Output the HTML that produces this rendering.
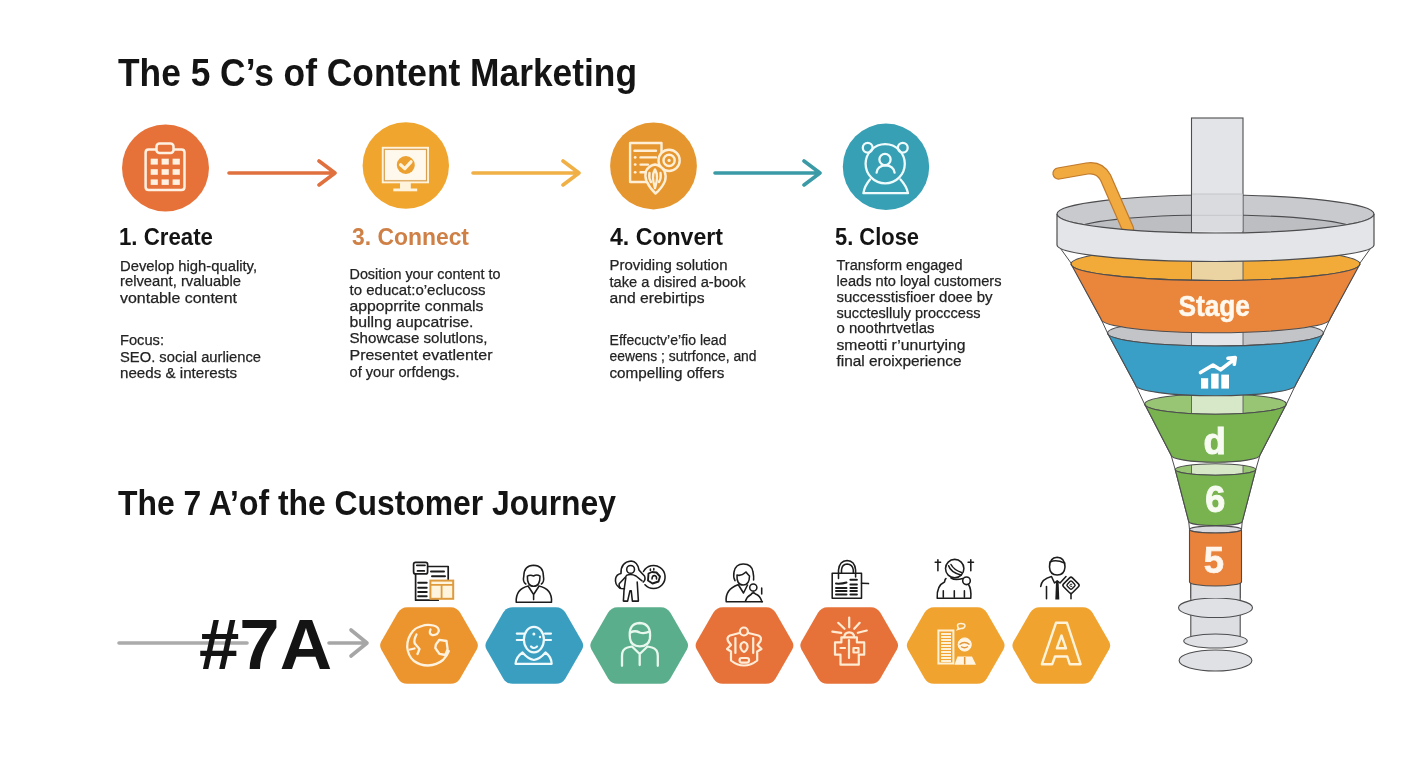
<!DOCTYPE html>
<html><head><meta charset="utf-8">
<style>
html,body{margin:0;padding:0;background:#fff;}
body{width:1408px;height:768px;overflow:hidden;position:relative;}
svg{position:absolute;left:0;top:0;will-change:transform;}
text{font-family:"Liberation Sans",sans-serif;}
.t{font-weight:bold;fill:#141414;}
.b{font-size:15.5px;fill:#232323;stroke:#232323;stroke-width:0.25px;}
.ic{fill:none;stroke:#fff6e8;stroke-width:2.6;stroke-linecap:round;stroke-linejoin:round;}
.bk{fill:none;stroke:#1e1e1e;stroke-width:1.8;stroke-linecap:round;stroke-linejoin:round;}
.ln{stroke:#4a4a4a;stroke-width:1.2;}
</style></head>
<body>
<svg width="1408" height="768" viewBox="0 0 1408 768">
<rect width="1408" height="768" fill="#ffffff"/>

<!-- Title 1 -->
<text class="t" x="118" y="86" font-size="38" textLength="519" lengthAdjust="spacingAndGlyphs">The 5 C’s of Content Marketing</text>

<!-- circles -->
<circle cx="165.5" cy="168" r="43.5" fill="#E6723A"/>
<circle cx="405.8" cy="165.5" r="43.2" fill="#F0A52E"/>
<circle cx="653.5" cy="166" r="43.4" fill="#E6962F"/>
<circle cx="886" cy="166.8" r="43.2" fill="#37A0B4"/>

<!-- arrows -->
<g fill="none" stroke-width="3.6" stroke-linecap="round" stroke-linejoin="round">
<path d="M229 173H335M319 161L335 173L319 185" stroke="#E0703E"/>
<path d="M473 173H579M563 161L579 173L563 185" stroke="#F0B045"/>
<path d="M715 173H820M804 161L820 173L804 185" stroke="#3A9AA6"/>
</g>

<!-- headings -->
<text class="t" x="119" y="245" font-size="24.5" textLength="94" lengthAdjust="spacingAndGlyphs">1. Create</text>
<text class="t" x="352" y="245" font-size="24.5" fill="#D98A4A" style="fill:#CF8046" textLength="117" lengthAdjust="spacingAndGlyphs">3. Connect</text>
<text class="t" x="610" y="245" font-size="24.5" textLength="113" lengthAdjust="spacingAndGlyphs">4. Convert</text>
<text class="t" x="835" y="245" font-size="24.5" textLength="84" lengthAdjust="spacingAndGlyphs">5. Close</text>

<!-- body col1 -->
<g class="b">
<text x="120" y="270.5" textLength="137" lengthAdjust="spacingAndGlyphs">Develop high-quality,</text>
<text x="120" y="286" textLength="121" lengthAdjust="spacingAndGlyphs">relveant, rvaluable</text>
<text x="120" y="302.5" textLength="117" lengthAdjust="spacingAndGlyphs">vontable content</text>
<text x="120" y="345" textLength="44" lengthAdjust="spacingAndGlyphs">Focus:</text>
<text x="120" y="361.5" textLength="141" lengthAdjust="spacingAndGlyphs">SEO. social aurlience</text>
<text x="120" y="377.5" textLength="117" lengthAdjust="spacingAndGlyphs">needs &amp; interests</text>
</g>
<!-- body col2 -->
<g class="b">
<text x="349.5" y="278.5" textLength="151" lengthAdjust="spacingAndGlyphs">Dosition your content to</text>
<text x="349.5" y="294.5" textLength="136" lengthAdjust="spacingAndGlyphs">to educat:o’eclucoss</text>
<text x="349.5" y="311" textLength="134" lengthAdjust="spacingAndGlyphs">appoprrite conmals</text>
<text x="349.5" y="327" textLength="124" lengthAdjust="spacingAndGlyphs">bullng aupcatrise.</text>
<text x="349.5" y="343" textLength="138" lengthAdjust="spacingAndGlyphs">Showcase solutlons,</text>
<text x="349.5" y="360" textLength="143" lengthAdjust="spacingAndGlyphs">Presentet evatlenter</text>
<text x="349.5" y="376.5" textLength="110" lengthAdjust="spacingAndGlyphs">of your orfdengs.</text>
</g>
<!-- body col3 -->
<g class="b">
<text x="609.5" y="270" textLength="118" lengthAdjust="spacingAndGlyphs">Providing solution</text>
<text x="609.5" y="286.5" textLength="136" lengthAdjust="spacingAndGlyphs">take a disired a-book</text>
<text x="609.5" y="302.5" textLength="95" lengthAdjust="spacingAndGlyphs">and erebirtips</text>
<text x="609.5" y="345" textLength="117" lengthAdjust="spacingAndGlyphs">Effecuctv’e’fio lead</text>
<text x="609.5" y="361" textLength="147" lengthAdjust="spacingAndGlyphs">eewens ; sutrfonce, and</text>
<text x="609.5" y="377.5" textLength="115" lengthAdjust="spacingAndGlyphs">compelling offers</text>
</g>
<!-- body col4 -->
<g class="b">
<text x="836.5" y="270" textLength="126" lengthAdjust="spacingAndGlyphs">Transform engaged</text>
<text x="836.5" y="285.5" textLength="165" lengthAdjust="spacingAndGlyphs">leads nto loyal customers</text>
<text x="836.5" y="301.5" textLength="156" lengthAdjust="spacingAndGlyphs">successtisfioer doee by</text>
<text x="836.5" y="317.5" textLength="144" lengthAdjust="spacingAndGlyphs">succteslluly procccess</text>
<text x="836.5" y="333" textLength="98" lengthAdjust="spacingAndGlyphs">o noothrtvetlas</text>
<text x="836.5" y="349.5" textLength="129" lengthAdjust="spacingAndGlyphs">smeotti r’unurtying</text>
<text x="836.5" y="366" textLength="125" lengthAdjust="spacingAndGlyphs">final eroixperience</text>
</g>

<!-- Title 2 -->
<text class="t" x="118" y="515" font-size="34.5" textLength="498" lengthAdjust="spacingAndGlyphs">The 7 A’of the Customer Journey</text>

<!-- #7A -->
<path d="M119 643H247" stroke="#ABABAB" stroke-width="3.6" stroke-linecap="round"/>
<text class="t" x="199" y="668.5" font-size="71" textLength="133" lengthAdjust="spacingAndGlyphs">#7A</text>
<path d="M329 643H367M351 630L367 643L351 656" stroke="#A6A6A6" stroke-width="3.6" fill="none" stroke-linecap="round" stroke-linejoin="round"/>

<!-- hexagons -->
<defs>
<path id="hx" d="M-21.50 -38.3H21.50Q28 -38.3 31.24 -32.66L47.76 -3.90Q50 0 47.76 3.90L31.24 32.66Q28 38.3 21.50 38.3H-21.50Q-28 38.3 -31.24 32.66L-47.76 3.90Q-50 0 -47.76 -3.90L-31.24 -32.66Q-28 -38.3 -21.50 -38.3Z"/>
</defs>
<use href="#hx" x="429" y="645.5" fill="#EC952F"/>
<use href="#hx" x="534.3" y="645.5" fill="#3A9EC1"/>
<use href="#hx" x="639.2" y="645.5" fill="#5BAE8C"/>
<use href="#hx" x="744.5" y="645.5" fill="#E6723A"/>
<use href="#hx" x="849.2" y="645.5" fill="#E6723A"/>
<use href="#hx" x="955.7" y="645.5" fill="#F0A32F"/>
<use href="#hx" x="1061.3" y="645.5" fill="#F0A32F"/>

<!-- ICONS -->
<g id="icons">
<!-- circle1 calendar -->
<g fill="none" stroke="#FFF1E2" stroke-width="2.5" stroke-linejoin="round">
<path d="M156.5 149.4H148.6Q145.6 149.4 145.6 152.4V187Q145.6 190 148.6 190H181.5Q184.5 190 184.5 187V152.4Q184.5 149.4 181.5 149.4H173.5"/>
<rect x="156.5" y="143.4" width="17" height="9.6" rx="3"/>
</g>
<g fill="#FFF1E2">
<rect x="150.7" y="158.7" width="7.1" height="5.9"/><rect x="161.6" y="158.7" width="7.2" height="5.9"/><rect x="172.6" y="158.7" width="7.2" height="5.9"/>
<rect x="150.7" y="169.2" width="7.1" height="5.6"/><rect x="161.6" y="169.2" width="7.2" height="5.6"/><rect x="172.6" y="169.2" width="7.2" height="5.6"/>
<rect x="150.7" y="179.4" width="7.1" height="5.5"/><rect x="161.6" y="179.4" width="7.2" height="5.5"/><rect x="172.6" y="179.4" width="7.2" height="5.5"/>
</g>
<!-- circle2 monitor -->
<rect x="381.8" y="146.8" width="47.2" height="36.5" fill="#FFF3DC"/>
<rect x="384.3" y="149.3" width="42.2" height="31.5" fill="none" stroke="#D9A050" stroke-width="1.2"/>
<rect x="385.5" y="150.5" width="39.8" height="29" fill="#FFF8EC"/>
<circle cx="405.8" cy="165" r="9" fill="#EBA030"/>
<path d="M400.6 164.8L404.8 168.6L411 161.8" fill="none" stroke="#FFF3DC" stroke-width="3.2" stroke-linecap="round" stroke-linejoin="round"/>
<rect x="400" y="183" width="10.8" height="6" fill="#FFF3DC"/>
<rect x="393.3" y="188.5" width="23.9" height="2.8" fill="#FFF3DC"/>
<!-- circle3 convert -->
<g fill="none" stroke="#FFEFD6" stroke-width="2.4" stroke-linecap="round" stroke-linejoin="round">
<path d="M651 182H630.1V143H661.5V152"/>
<path d="M634.5 150.7H656M640.5 157.4H656M640.5 164.6H648M640.5 172.3H645.5"/>
<circle cx="669.1" cy="160.4" r="10.6" fill="#E6962F"/>
<circle cx="669.1" cy="160.4" r="5.6"/>
<path d="M655 164.5Q649 165.5 646 171Q644.5 176 646.5 181Q649.5 188 655.5 193.5Q662 188 665 181Q666.5 176 664.5 171Q661 165.5 655 164.5Z" fill="#E6962F"/>
<path d="M655 169.5Q651 176 655 188Q659 176 655 169.5Z"/>
<path d="M649.5 173Q648.5 178 651 182M660.5 173Q661.5 178 659 182"/>
</g>
<circle cx="635.2" cy="157.4" r="1.4" fill="#FFEFD6"/><circle cx="635.2" cy="164.6" r="1.4" fill="#FFEFD6"/><circle cx="635.2" cy="172.3" r="1.4" fill="#FFEFD6"/>
<circle cx="669.1" cy="160.4" r="1.6" fill="#FFEFD6"/>
<!-- circle4 close -->
<g fill="none" stroke="#EFFBFD" stroke-width="2.3" stroke-linecap="round" stroke-linejoin="round">
<circle cx="885.2" cy="163.8" r="19.6"/>
<circle cx="867.7" cy="147.7" r="4.9"/>
<circle cx="902.8" cy="147.7" r="4.9"/>
<circle cx="885" cy="159.5" r="5.6"/>
<path d="M876.6 172.6Q877.5 165.5 885.5 165.3Q893.5 165.5 894.6 172.6"/>
<path d="M870 179.5Q864.5 186 863.4 193.2H908Q906.5 186 900.5 179.5"/>
</g>
</g>
<!--endicons-->
<!-- ICONS2 -->
<g id="icons2">
<!-- black icons above hexes -->
<g fill="none" stroke="#1c1c1c" stroke-width="1.7" stroke-linecap="round" stroke-linejoin="round">
<!-- 1 documents -->
<rect x="413.6" y="562.3" width="14" height="11.6" rx="2"/>
<path d="M416.8 565.3H425M417.5 570.9H424.3"/>
<path d="M415.6 574.3V600.2H438.2M428 566.5H448.2V579.4"/>
<path d="M431 571.6H444M432 576.3H445M418.2 582.8H426.7M418.2 587.8H426.7M418.2 592.1H426.7M418.2 596.3H426.7" stroke-width="2"/>
</g>
<rect x="430.4" y="580.6" width="22.8" height="18.2" fill="#FFF4DD" stroke="#DE9B3E" stroke-width="2"/>
<path d="M430.4 584.8H453.2M441.6 584.8V598.8" stroke="#DE9B3E" stroke-width="1.8"/>
<g fill="none" stroke="#1c1c1c" stroke-width="1.55" stroke-linecap="round" stroke-linejoin="round">
<!-- 2 woman -->
<path d="M525.8 584Q522.5 582 523.8 576Q524 565.5 533.6 565.3Q543.2 565.5 543.4 576Q544.5 582 541.4 584"/>
<path d="M527.4 576.2Q527 586.3 533.6 586.3Q540.2 586.3 540 576.2Q537 574 533.6 576Q530 574.5 527.4 576.2Z"/>
<path d="M516.2 602.2Q515.5 589 528.4 586M551.5 602.2Q552.5 589 538.8 586M516.2 602.2H551.5"/>
<path d="M528.4 586.5L533.6 594.5L538.8 586.5M533.6 594.5V599.6"/>
<!-- 3 person + disc -->
<circle cx="630.6" cy="569.4" r="3.9"/>
<path d="M619.8 588Q614.5 584.5 615.6 578.5Q616.5 574.5 621 573.6Q620.5 562 631.2 561Q637.5 561.5 639 570Q641.5 573 644.5 576Q646 580 643.2 582"/>
<path d="M625.8 577.8L624 590.4L623.4 601.1H627.6L630 590.7H631.2L632.4 601.1H638.4L637.2 582"/>
<path d="M626.4 575.4Q631 573.5 636 576L642 580.8"/>
<path d="M626 576.5L619.2 583.8Q618.5 587.5 621 588.5L624.5 588.8"/>
<path d="M643.5 571.5A11.5 11.5 0 1 1 645 584.7"/>
<path d="M648.5 573.5L652 572L656.5 572.5L660 576.5L658.5 581.5L652.5 583.5L648 580.5Z" stroke-width="1.9"/>
<path d="M652 579Q652 575.5 654.5 575.5Q657 576 656.5 579"/>
<path d="M650.4 569V570.5M653.8 568.5V570"/>
<!-- 4 woman + baby -->
<path d="M735 580.7Q733 577 734 572Q735.5 564 743.4 564.1Q752 564.3 753 572Q754 577 753.6 580"/>
<path d="M737 575Q736.5 585 743.1 585Q749.5 585 749.5 576Q747 573.5 746 572Q741 576.5 737 575Z"/>
<path d="M726.2 601.7Q725 589.5 738 584.8M726.2 601.7H762.4"/>
<path d="M738.5 585L743.5 593L747.5 585"/>
<circle cx="753.3" cy="587.5" r="3.6"/>
<path d="M745.5 601Q747 596.5 751 594.5Q753 591.5 755.5 594Q760 595.5 762 601.7"/>
<path d="M761.7 588V594"/>
<!-- 5 bag -->
<rect x="832.2" y="573.2" width="29.3" height="25.1"/>
<path d="M838.5 578.5V570Q839.5 560.8 847.1 560.5Q854.8 560.8 855.6 570V577M841.5 573V570Q842 564.3 847.1 564.1Q852.5 564.3 853.3 570V573"/>
<path d="M836 583.6Q842 584 846.5 582.5M836 587.9H846.5M836 591.1H846.5M836 594.4H846.5M850.4 579.7H856.9M850.4 584.6H856.9M850.4 587.9H856.9M850.4 591.1H856.9M850.4 594.4H856.9" stroke-width="2"/>
<path d="M861.5 583.3L868.5 583.6"/>
<!-- 6 head + arrows -->
<circle cx="954.7" cy="568.6" r="9.2"/>
<path d="M948.6 565.7Q950.5 572 960.8 575M951 564.5Q954 570 961.5 572.5"/>
<circle cx="966.5" cy="580.8" r="3.8"/>
<path d="M937.2 598.3Q936.5 585.5 944.5 582Q945 579 946 578.5M951 578Q955 580.5 962.7 578.5M970.8 598.3Q971.5 589 968.5 584.5M937.2 598.3H970.8"/>
<path d="M943.3 590.8V597.2M954.3 590.8V597.2M964.4 590.8V597.2"/>
<path d="M937.9 559.8V570.8M935.2 562.2H940.6M970.8 559.8V570.8M968.1 562.2H973.5"/>
<!-- 7 businessman -->
<path d="M1049.5 567Q1049.5 557.5 1057.2 557.2Q1065 557.5 1065 567Q1064.5 575 1057.2 575Q1049.8 575 1049.5 567Z"/>
<path d="M1050 562Q1056 559 1064.5 563"/>
<path d="M1040.7 586.5Q1041.5 579 1051.5 576.5L1054.5 583L1057.2 580.8L1060 583L1066 576.5"/>
<path d="M1046.5 586.5V598.7"/>
<rect x="1064.8" y="579" width="12.5" height="12.5" rx="2" transform="rotate(45 1071 585.2)"/>
<rect x="1067.7" y="581.9" width="6.6" height="6.6" rx="1.5" transform="rotate(45 1071 585.2)" stroke-width="1.4"/>
<path d="M1071 594.2V598.7"/>
</g>
<path d="M1056 581.5H1058.6L1059.3 599.4H1055.3Z" fill="#1c1c1c"/>
<path d="M1072.2 584.3Q1070 583.6 1069.8 585.3Q1070 587 1072.2 586.3" fill="none" stroke="#1c1c1c" stroke-width="1"/>

<!-- white icons in hexes -->
<g fill="none" stroke="#FFF2DE" stroke-width="2.3" stroke-linecap="round" stroke-linejoin="round">
<!-- hex1 globe -->
<path d="M423.5 625.5Q417 627 413 631Q407 638 407.2 647Q408 656 414 661Q420 665.5 428 665.5Q437 665 443 660Q447 656 448.8 651"/>
<path d="M416.5 634.5Q413.5 640 414.8 643.5L419.5 649L417.5 654"/>
<path d="M410 649.5L414.5 648.5"/>
<path d="M424.5 625.2Q429 624.5 433.5 625.5Q439 627 438.8 631Q437.5 635.5 432 635Q428.5 633.5 430.5 629.5"/>
<path d="M435.9 644.5L439.4 639.8L446.5 641L447.6 649.2L445.3 655L439.4 653.9L435.3 648Z"/>
</g>
<g fill="none" stroke="#EFFAFD" stroke-width="2.2" stroke-linecap="round" stroke-linejoin="round">
<!-- hex2 robot head -->
<ellipse cx="533.9" cy="639.6" rx="10" ry="12.8"/>
<path d="M516.8 633.6H523.5M516.8 640H523.5M545 633.6H551M545 640H551"/>
<path d="M515.5 663.8Q516 657 522.5 652.5Q528 659 533.9 660Q540 659 545.5 652.5Q551.5 657 551.7 663.8Z"/>
<path d="M531 646.5Q533.9 649.5 537 646.5"/>
</g>
<circle cx="533.9" cy="634" r="1.5" fill="#EFFAFD"/><circle cx="540" cy="637" r="1.2" fill="#EFFAFD"/>
<g fill="none" stroke="#E9F8EF" stroke-width="2.3" stroke-linecap="round" stroke-linejoin="round">
<!-- hex3 person -->
<path d="M630 638.7Q628 623.5 639.7 623Q651.5 623.5 649.9 638.7Q648.5 646.3 639.7 646.3Q631 646.3 630 638.7Z"/>
<path d="M630.5 632.5Q635 630 639.5 632.5Q644.5 634 649.5 631.5"/>
<path d="M622 665.8V656Q622 649 627.5 647.5L632 646.5L639.7 654L647.5 646.5L652 647.5Q657.8 649 657.8 656V665.8M639.7 654V665"/>
</g>
<g fill="none" stroke="#FFEBD6" stroke-width="2.2" stroke-linecap="round" stroke-linejoin="round">
<!-- hex4 jacket -->
<circle cx="743.9" cy="631.5" r="4"/>
<path d="M739.5 633L730 635.5Q726.5 637 728 641L731 645L727 649L731 651.5V660.5Q737 665.5 743.9 665.5Q751 665.5 757.2 660.5V651.5L761.5 649L757.5 645L760.5 641Q762 637 758.5 635.5L748.3 633"/>
<path d="M735.4 638V653M753.2 638V653"/>
<path d="M743.9 642Q740 643 740.5 647.5Q741.5 651 743.9 652Q746.5 651 747.5 647.5Q748 643 743.9 642Z"/>
<rect x="739.6" y="658" width="9.4" height="4.6" rx="2"/>
</g>
<g fill="none" stroke="#FFEAD2" stroke-width="2.2" stroke-linecap="round" stroke-linejoin="round">
<!-- hex5 lock/gift with rays -->
<path d="M849.2 617.5V627.3M838.2 622.8L844.5 628.8M859.7 622.8L854.2 628.8M832.3 631.7L841.2 632.8M857.8 632.8L866.8 630.5"/>
<path d="M844.2 637.3Q844.5 632.3 849.2 632.3Q854 632.3 854.2 637.3"/>
<path d="M841.4 637.3H856.9V642.4H864.2V654.7H858.8V664.7H840.5V654.7H835V642.4H841.4Z"/>
<path d="M840.5 648H845M853.5 648H858.5V652.5H853.5Z M849 640V658"/>
</g>
<!-- hex6 building + person -->
<rect x="938.4" y="630.5" width="15" height="33" fill="none" stroke="#FFF1D6" stroke-width="2"/>
<path d="M941 634H951M941 637H951M941 640H951M941 643H951M941 646H951M941 649H951M941 652H951M941 655H951M941 658H951M941 661H951" stroke="#FFF1D6" stroke-width="1.9"/>
<circle cx="964.7" cy="644.5" r="6.6" fill="#FFF5E2" stroke="#FFF5E2" stroke-width="1"/>
<path d="M959.5 644.5Q964.5 640.5 969.5 644.5M961 646.5Q964.5 649 968 646.5" stroke="#E0953A" stroke-width="1.5" fill="none"/>
<path d="M957.5 656.5H972L976 664.7H954.5Z" fill="#FFF5E2"/>
<path d="M964.7 657V664.5" stroke="#E0953A" stroke-width="1.6"/>
<path d="M957.5 625.5Q957.5 623.5 961 623.5Q965 623.5 965 626Q964.5 628.5 961 628.5L957.5 629.5L958.5 627.8Q957.5 627 957.5 625.5Z" fill="none" stroke="#FFF1D6" stroke-width="1.5"/>
<!-- hex7 A -->
<path d="M1056 622.8H1067L1080.6 664.2H1069.7L1067.2 656.5H1055L1052.3 664.2H1041.9Z M1061.5 635.5L1066 648.3H1056.8Z" fill="none" stroke="#FFF3DA" stroke-width="2.4" stroke-linejoin="round"/>
</g>
<!--endicons2-->
<!-- FUNNEL -->
<g id="funnel">
<path d="M1058 245L1071 263L1101 319L1107.5 333L1135.5 385L1144.5 404L1171 455L1175.2 469.5L1188.75 521.8L1189.5 529.5M1373.0 245L1360.0 263L1330.0 319L1323.5 333L1295.5 385L1286.5 404L1260.0 455L1255.8 469.5L1242.2 521.8L1241.5 529.5" fill="none" stroke="#4d4d4f" stroke-width="1"/>
<rect x="1190.8" y="580" width="49.4" height="61" fill="#DCDEE2" stroke="#4d4d4f" stroke-width="1.1"/>
<ellipse cx="1215.5" cy="660.5" rx="36.4" ry="10.5" fill="#DFE1E4" stroke="#4d4d4f" stroke-width="1.1"/>
<ellipse cx="1215.5" cy="641" rx="31.8" ry="7" fill="#DFE1E4" stroke="#4d4d4f" stroke-width="1.1"/>
<ellipse cx="1215.5" cy="607.8" rx="37" ry="9.75" fill="#DFE1E4" stroke="#4d4d4f" stroke-width="1.1"/>
<rect x="1190.8" y="583" width="49.4" height="15" fill="#DCDEE2"/><path d="M1190.8 583V598M1240.2 583V598" stroke="#4d4d4f" stroke-width="1.1"/>
<clipPath id="cf529"><ellipse cx="1215.5" cy="529.5" rx="26" ry="3.5"/></clipPath><ellipse cx="1215.5" cy="529.5" rx="26" ry="3.5" fill="#D9DADD"/><ellipse cx="1215.5" cy="529.5" rx="26" ry="3.5" fill="none" stroke="#4d4d4f" stroke-width="1.1"/>
<path d="M1189.5 529.5A26 3.5 0 0 0 1241.5 529.5L1241.5 582.0A26 4 0 0 1 1189.5 582.0Z" fill="#E9823A" stroke="#4d4d4f" stroke-width="1.1"/>
<clipPath id="cf469"><ellipse cx="1215.5" cy="469.5" rx="40.3" ry="5.75"/></clipPath><ellipse cx="1215.5" cy="469.5" rx="40.3" ry="5.75" fill="#98C574"/><rect x="1191.5" y="462.75" width="51.5" height="13.5" fill="#D6E8C8" clip-path="url(#cf469)"/><path d="M1191.5 462.75V476.25M1243 462.75V476.25" stroke="#4d4d4f" stroke-width="0.8" clip-path="url(#cf469)"/><ellipse cx="1215.5" cy="469.5" rx="40.3" ry="5.75" fill="none" stroke="#4d4d4f" stroke-width="1.1"/>
<path d="M1175.2 469.5A40.3 5.75 0 0 0 1255.8 469.5L1242.2 521.8A26.75 4 0 0 1 1188.8 521.8Z" fill="#78B34F" stroke="#4d4d4f" stroke-width="1.1"/>
<clipPath id="cf404"><ellipse cx="1215.5" cy="404" rx="70.8" ry="10.3"/></clipPath><ellipse cx="1215.5" cy="404" rx="70.8" ry="10.3" fill="#98C574"/><rect x="1191.5" y="392.7" width="51.5" height="22.6" fill="#D6E8C8" clip-path="url(#cf404)"/><path d="M1191.5 392.7V415.3M1243 392.7V415.3" stroke="#4d4d4f" stroke-width="0.8" clip-path="url(#cf404)"/><ellipse cx="1215.5" cy="404" rx="70.8" ry="10.3" fill="none" stroke="#4d4d4f" stroke-width="1.1"/>
<path d="M1144.7 404.0A70.8 10.3 0 0 0 1286.3 404.0L1260.0 455.0A44.5 7.3 0 0 1 1171.0 455.0Z" fill="#78B34F" stroke="#4d4d4f" stroke-width="1.1"/>
<clipPath id="cf333"><ellipse cx="1215.5" cy="333" rx="108" ry="13"/></clipPath><ellipse cx="1215.5" cy="333" rx="108" ry="13" fill="#C3C4C8"/><rect x="1191.5" y="319" width="51.5" height="28" fill="#E3E5E8" clip-path="url(#cf333)"/><path d="M1191.5 319V347M1243 319V347" stroke="#4d4d4f" stroke-width="0.8" clip-path="url(#cf333)"/><ellipse cx="1215.5" cy="333" rx="108" ry="13" fill="none" stroke="#4d4d4f" stroke-width="1.1"/>
<path d="M1107.5 333.0A108 13 0 0 0 1323.5 333.0L1295.5 385.0A80 10.8 0 0 1 1135.5 385.0Z" fill="#3A9FC6" stroke="#4d4d4f" stroke-width="1.1"/>
<clipPath id="cf264"><ellipse cx="1215.5" cy="264" rx="144.5" ry="16.5"/></clipPath><ellipse cx="1215.5" cy="264" rx="144.5" ry="16.5" fill="#F2AB38"/><rect x="1191.5" y="246.5" width="51.5" height="35.0" fill="#ECD3A2" clip-path="url(#cf264)"/><path d="M1191.5 246.5V281.5M1243 246.5V281.5" stroke="#4d4d4f" stroke-width="0.8" clip-path="url(#cf264)"/><ellipse cx="1215.5" cy="264" rx="144.5" ry="16.5" fill="none" stroke="#4d4d4f" stroke-width="1.1"/>
<path d="M1071.0 264.0A144.5 16.5 0 0 0 1360.0 264.0L1330.0 319.0A114.5 13.7 0 0 1 1101.0 319.0Z" fill="#EA853C" stroke="#4d4d4f" stroke-width="1.1"/>
<ellipse cx="1215.5" cy="214" rx="158.5" ry="19" fill="#C9CACE" stroke="#4d4d4f" stroke-width="1.2"/>
<clipPath id="rimin"><ellipse cx="1215.5" cy="214" rx="158.5" ry="19"/></clipPath>
<ellipse cx="1215.5" cy="230" rx="140" ry="15" fill="#BDBEC2" stroke="#4d4d4f" stroke-width="1.1" clip-path="url(#rimin)"/>
<rect x="1191.5" y="118" width="51.5" height="116" fill="#E2E4E7" stroke="#4d4d4f" stroke-width="1.1"/>
<rect x="1192" y="194" width="50.5" height="37" fill="#D9DBDF"/>
<path d="M1192 194H1242.5M1192 215.3H1242.5" stroke="#C4C6CA" stroke-width="1"/>
<path d="M1058.5 173.5L1087 168.5Q1099.5 166.5 1105.5 177.5L1128 229" fill="none" stroke="#C07A2C" stroke-width="12.4" stroke-linecap="round" stroke-linejoin="round"/>
<path d="M1058.5 173.5L1087 168.5Q1099.5 166.5 1105.5 177.5L1128 229" fill="none" stroke="#F0AA40" stroke-width="10" stroke-linecap="round" stroke-linejoin="round"/>
<path d="M1057.0 214.0A158.5 19 0 0 0 1374.0 214.0L1374.0 245.0A158.5 16.5 0 0 1 1057.0 245.0Z" fill="#E4E5E8" stroke="#4d4d4f" stroke-width="1.2"/>
<text x="1214.2" y="315.6" font-size="30" font-weight="bold" fill="#FFF8EE" stroke="#FFF8EE" stroke-width="0.6" text-anchor="middle" textLength="71.5" lengthAdjust="spacingAndGlyphs">Stage</text>
<g fill="#FFFFFF"><rect x="1201" y="378.2" width="7.2" height="10.4"/><rect x="1211.2" y="373.6" width="7.4" height="15"/><rect x="1221.3" y="374.6" width="7.7" height="14"/></g>
<path d="M1200.5 372.5L1213 365L1220.6 369.8L1234 359.5M1228 358.3L1235.3 357.6L1234.3 364.3" fill="none" stroke="#FFFFFF" stroke-width="3.6" stroke-linecap="round" stroke-linejoin="round"/>
<text x="1214.7" y="453.8" font-size="36.5" font-weight="bold" fill="#F8FBF2" stroke="#F8FBF2" stroke-width="1" text-anchor="middle">d</text>
<text x="1215.2" y="511.5" font-size="36" font-weight="bold" fill="#F8FBF2" stroke="#F8FBF2" stroke-width="0.9" text-anchor="middle">6</text>
<text x="1214" y="572.5" font-size="36.5" font-weight="bold" fill="#FFF6EE" stroke="#FFF6EE" stroke-width="0.7" text-anchor="middle">5</text>
</g><!--endfunnel-->

</svg>
</body></html>
